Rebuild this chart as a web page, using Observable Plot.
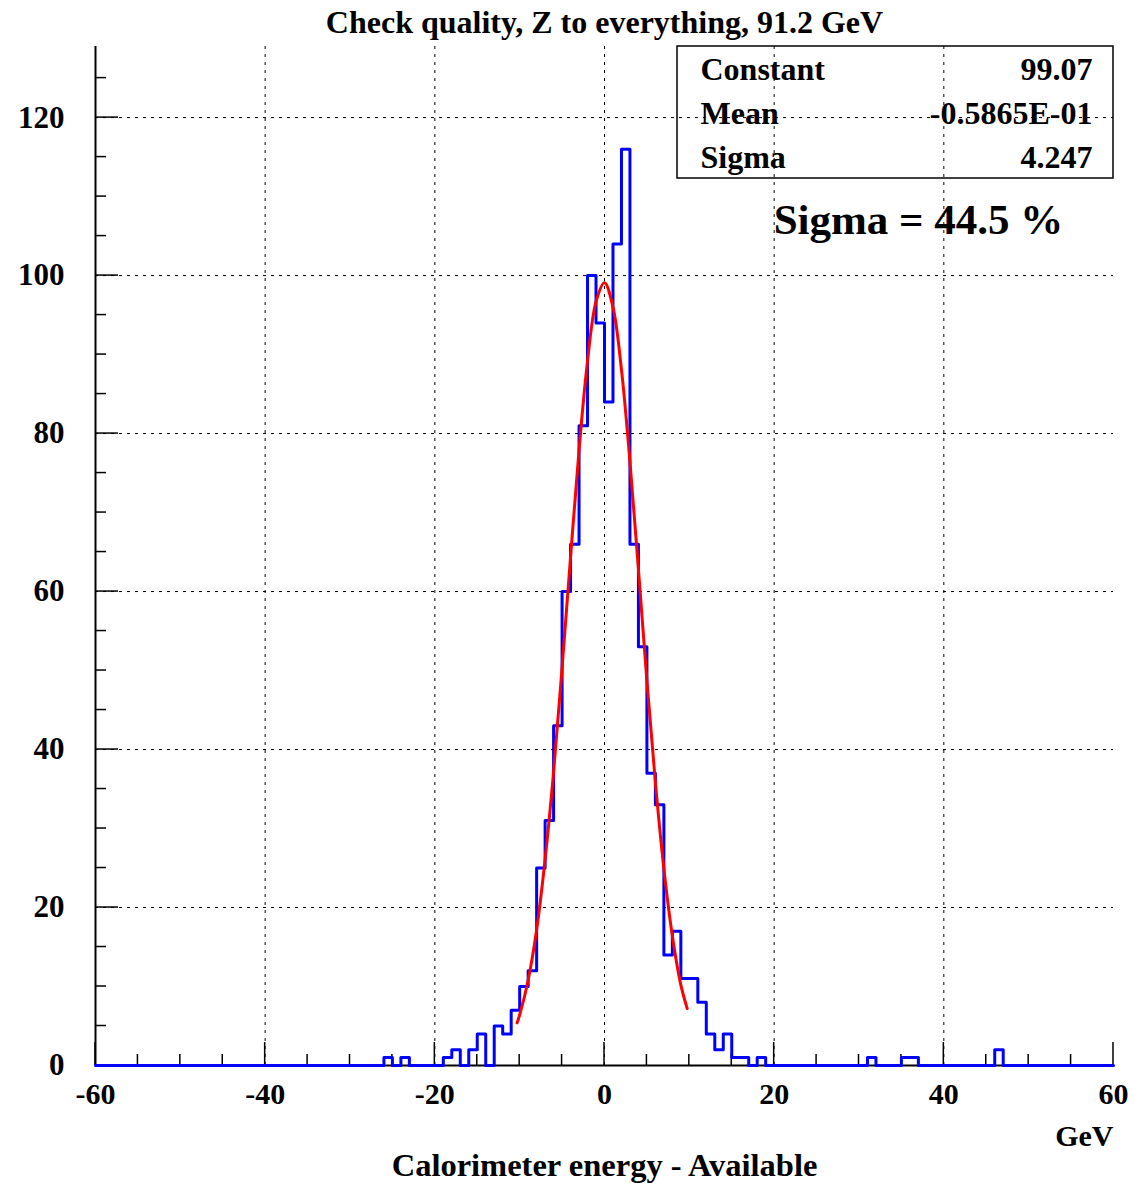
<!DOCTYPE html>
<html><head><meta charset="utf-8">
<script src="https://cdn.jsdelivr.net/npm/d3@7"></script>
<script src="https://cdn.jsdelivr.net/npm/@observablehq/plot@0.6"></script>
<style>html,body{margin:0;padding:0;background:#fff;}</style>
</head><body><div id="chart"></div>
<script>
// ---- data ----
const title = "Check quality, Z to everything, 91.2 GeV";
const xLabel = "Calorimeter energy - Available";
const xUnit = "GeV";
const note = "Sigma = 44.5 %";
const statNames = ["Constant", "Mean", "Sigma"];
const statValues = ["99.07", "-0.5865E-01", "4.247"];

// histogram: lower bin edges (1 GeV bins) of non-empty bins and their counts
const binLow   = [-26, -24, -19, -18, -16, -15, -13, -12, -11, -10, -9, -8, -7, -6, -5, -4, -3, -2, -1, 0, 1, 2, 3, 4, 5, 6, 7, 8, 9, 10, 11, 12, 13, 14, 15, 16, 18, 31, 35, 36, 46];
const binCount = [  1,   1,   1,   2,   2,   4,   5,   4,   7,  10, 12, 25, 31, 43, 60, 66, 81,100, 94,84,104,116,66,53,37,33,14,17,11,11, 8, 4, 2, 4, 1, 1, 1, 1, 1, 1, 2];
const histMin = -60, histMax = 60;

// red fitted curve
const fitX = [-10.3, -10, -9, -8, -7, -6, -5, -4, -3, -2, -1, 0, 1, 2, 3, 4, 5, 6, 7, 8, 9, 9.75];
const fitY = [5.4, 6.4, 10.8, 17.2, 26.1, 37.2, 50.4, 64.4, 77.9, 89.2, 96.7, 99.1, 96.0, 88.1, 76.4, 62.8, 48.7, 35.8, 24.9, 16.4, 10.2, 7.2];

// axes
const xMajor = [-60, -40, -20, 0, 20, 40, 60];
const xMinor = [-55, -50, -45, -35, -30, -25, -15, -10, -5, 5, 10, 15, 25, 30, 35, 45, 50, 55];
const yMajor = [0, 20, 40, 60, 80, 100, 120];
const yMinor = [5, 10, 15, 25, 30, 35, 45, 50, 55, 65, 70, 75, 85, 90, 95, 105, 110, 115, 125];
const xGrid = [-40, -20, 0, 20, 40];
const yGrid = [20, 40, 60, 80, 100, 120];
const yTop = 129;

// ---- build tables ----
const countMap = new Map(binLow.map((b, i) => [b, binCount[i]]));
const histPts = [];
for (let b = histMin; b < histMax; b++) histPts.push({x: b, y: countMap.get(b) || 0});
histPts.push({x: histMax, y: histPts[histPts.length - 1].y});
const fitPts = fitX.map((x, i) => ({x, y: fitY[i]}));

const ticks = (index, scales, values, dim) => {
  const g = d3.create("svg:g").attr("stroke", "black").attr("stroke-width", 1.5);
  const x = scales.x, y = scales.y, y0 = y(0), x0 = x(histMin);
  const line = (x1, y1, x2, y2) => g.append("line").attr("x1", x1).attr("y1", y1).attr("x2", x2).attr("y2", y2);
  xMajor.forEach(v => line(x(v), y0, x(v), y0 - 23));
  xMinor.forEach(v => line(x(v), y0, x(v), y0 - 11));
  yMajor.forEach(v => line(x0, y(v), x0 + 23, y(v)));
  yMinor.forEach(v => line(x0, y(v), x0 + 11, y(v)));
  return g.node();
};
const statBox = (index, scales, values, dim) => {
  const right = dim.width - dim.marginRight;
  return d3.create("svg:rect")
    .attr("x", right - 436).attr("y", dim.marginTop)
    .attr("width", 436).attr("height", 132)
    .attr("fill", "none").attr("stroke", "black").attr("stroke-width", 1.5).node();
};

const statMarks = statNames.flatMap((n, i) => [
  Plot.text([n], {text: d => d, frameAnchor: "top-right", lineAnchor: "middle", dx: -413, dy: 23 + 44 * i, textAnchor: "start", fontSize: 32}),
  Plot.text([statValues[i]], {text: d => d, frameAnchor: "top-right", lineAnchor: "middle", dx: -21, dy: 23 + 44 * i, textAnchor: "end", fontSize: 32})
]);

const chart = Plot.plot({
  width: 1135, height: 1183,
  marginTop: 46, marginBottom: 118, marginLeft: 95, marginRight: 22,
  x: {domain: [histMin, histMax], axis: null},
  y: {domain: [0, yTop], axis: null},
  style: {fontFamily: '"Liberation Serif", "Times New Roman", serif', fontWeight: "bold", background: "white", color: "black"},
  marks: [
    Plot.ruleX(xGrid, {stroke: "black", strokeWidth: 1, strokeDasharray: "3,5"}),
    Plot.ruleY(yGrid, {stroke: "black", strokeWidth: 1, strokeDasharray: "3,5"}),
    Plot.ruleX([histMin], {stroke: "black", strokeWidth: 2}),
    Plot.ruleY([0], {stroke: "black", strokeWidth: 2}),
    ticks,
    statBox,
    Plot.line(histPts, {x: "x", y: "y", curve: "step-after", stroke: "#0000ff", strokeWidth: 3}),
    Plot.line(fitPts, {x: "x", y: "y", curve: "catmull-rom", stroke: "#ff0000", strokeWidth: 3}),
    Plot.text(yMajor, {x: histMin, y: d => d, text: d => String(d), dx: -31, textAnchor: "end", lineAnchor: "middle", fontSize: 31}),
    Plot.text(xMajor, {x: d => d, y: 0, text: d => String(d), dy: 29, lineAnchor: "middle", fontSize: 30}),
    Plot.text([title], {text: d => d, frameAnchor: "top", lineAnchor: "middle", dy: -24, fontSize: 32}),
    Plot.text([xUnit], {text: d => d, frameAnchor: "bottom-right", lineAnchor: "middle", dy: 71, textAnchor: "end", fontSize: 30}),
    Plot.text([xLabel], {text: d => d, frameAnchor: "bottom", lineAnchor: "middle", dy: 100, fontSize: 32.5}),
    ...statMarks,
    Plot.text([note], {text: d => d, frameAnchor: "top-right", lineAnchor: "middle", textAnchor: "middle", dx: -195, dy: 174, fontSize: 43})
  ]
});
document.getElementById("chart").appendChild(chart);
</script>
</body></html>
